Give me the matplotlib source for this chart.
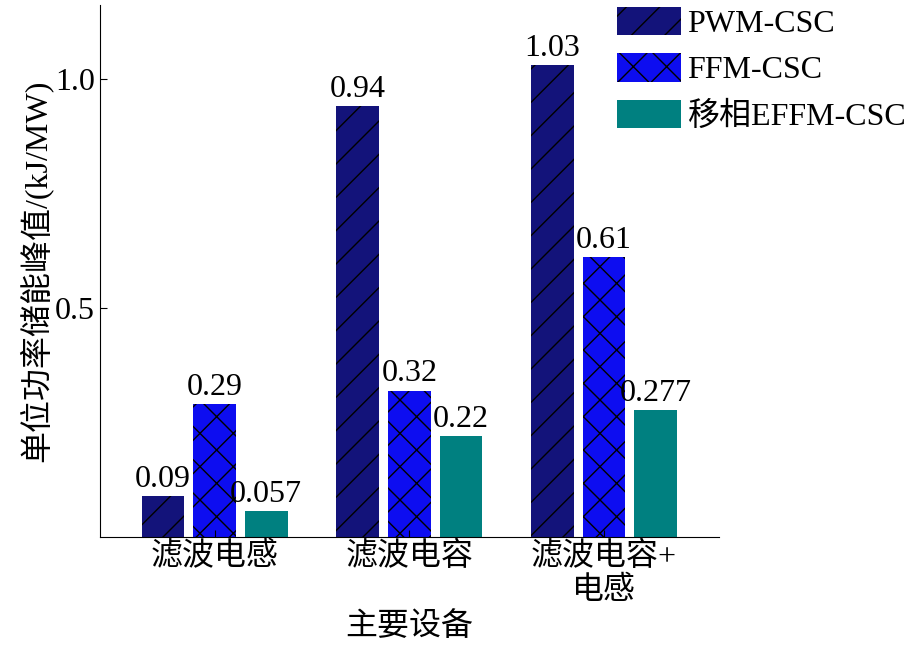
import matplotlib
matplotlib.use("Agg")
import matplotlib.pyplot as plt
import numpy as np

plt.rcParams['font.family'] = ['Liberation Serif', 'Noto Sans CJK SC']
plt.rcParams['hatch.linewidth'] = 1.0

categories = ['滤波电感', '滤波电容', '滤波电容+\n电感']
series = ['PWM-CSC', 'FFM-CSC', '移相EFFM-CSC']
pwm = [0.09, 0.94, 1.03]
ffm = [0.29, 0.32, 0.61]
effm = [0.057, 0.22, 0.277]
labels = [['0.09', '0.94', '1.03'], ['0.29', '0.32', '0.61'], ['0.057', '0.22', '0.277']]

colors = ['#13137a', '#0d0df0', '#008080']
hatches = ['/', 'x', None]
FS = 23

fig = plt.figure(figsize=(9.24, 6.56), dpi=100)
ax = fig.add_axes([0.108, 0.181, 0.67, 0.811])
x = np.arange(len(categories))
w = 0.22
off = 0.265
for i, (vals, name) in enumerate(zip([pwm, ffm, effm], series)):
    bars = ax.bar(x + (i - 1) * off, vals, w, color=colors[i], hatch=hatches[i],
                  edgecolor='black' if hatches[i] else colors[i], linewidth=0, label=name)
    for b, t in zip(bars, labels[i]):
        ax.text(b.get_x() + b.get_width() / 2, b.get_height() + 0.005, t,
                ha='center', va='bottom', fontsize=FS)

ax.set_xlim(-0.59, 2.59)
ax.set_ylim(0, 1.16)
ax.set_yticks([0.5, 1.0])
ax.set_yticklabels(['0.5', '1.0'])
ax.set_xticks(x)
ax.set_xticklabels(categories)
ax.tick_params(direction='in', labelsize=FS, length=5)
ax.spines['top'].set_visible(False)
ax.spines['right'].set_visible(False)
ax.set_ylabel('单位功率储能峰值/(kJ/MW)', fontsize=FS, labelpad=2)
ax.set_xlabel('主要设备', fontsize=FS, labelpad=4)
ax.legend(loc='upper left', bbox_to_anchor=(0.668, 0.99), bbox_transform=fig.transFigure,
          frameon=False, fontsize=FS, handlelength=2.0, handleheight=1.0,
          labelspacing=0.45, handletextpad=0.2, borderaxespad=0, borderpad=0)
fig.savefig('out.png', dpi=100)
